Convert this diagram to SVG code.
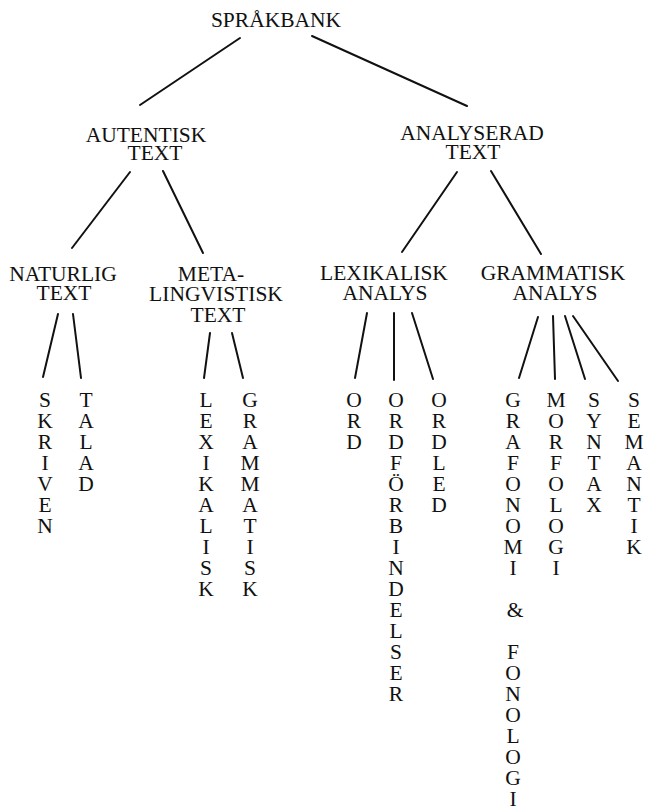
<svg xmlns="http://www.w3.org/2000/svg" width="646" height="811" viewBox="0 0 646 811">
<style>
text{font-family:"Liberation Serif","Times New Roman",serif;font-size:21.5px;fill:#111;text-anchor:middle}
.c line{stroke:#111;stroke-width:2;stroke-linecap:round}
</style>
<rect width="646" height="811" fill="#fff"/>
<g class="c" id="connectors">
<line x1="240" y1="38" x2="140" y2="105"/>
<line x1="312" y1="36" x2="467" y2="106"/>
<line x1="130" y1="172" x2="72" y2="248"/>
<line x1="163" y1="171" x2="203" y2="253"/>
<line x1="457" y1="172" x2="402" y2="252"/>
<line x1="491" y1="171" x2="541" y2="254"/>
<line x1="58" y1="314" x2="43" y2="377"/>
<line x1="73" y1="314" x2="81" y2="378"/>
<line x1="210" y1="333" x2="204" y2="378"/>
<line x1="232" y1="333" x2="243" y2="378"/>
<line x1="367" y1="313" x2="355" y2="378"/>
<line x1="394" y1="313" x2="394" y2="380"/>
<line x1="412" y1="313" x2="433" y2="379"/>
<line x1="538" y1="317" x2="519" y2="378"/>
<line x1="553" y1="316" x2="555" y2="379"/>
<line x1="565" y1="316" x2="585" y2="379"/>
<line x1="573" y1="316" x2="618" y2="381"/>
</g>
<g id="sprakbank"><text x="276" y="27">SPRÅKBANK</text></g>
<g id="autentisk"><text x="146" y="142">AUTENTISK</text><text x="155" y="160">TEXT</text></g>
<g id="analyserad"><text x="472" y="140">ANALYSERAD</text><text x="473" y="159">TEXT</text></g>
<g id="naturlig"><text x="63" y="281">NATURLIG</text><text x="64" y="300">TEXT</text></g>
<g id="metalingvistisk"><text x="211" y="281">META-</text><text x="216" y="301">LINGVISTISK</text><text x="218" y="322">TEXT</text></g>
<g id="lexikalisk-analys"><text x="384" y="280">LEXIKALISK</text><text x="385" y="300">ANALYS</text></g>
<g id="grammatisk-analys"><text x="553" y="280">GRAMMATISK</text><text x="555" y="300">ANALYS</text></g>
<g id="skriven"><text x="45" y="407"><tspan x="45">S</tspan><tspan x="45" dy="21">K</tspan><tspan x="45" dy="21">R</tspan><tspan x="45" dy="21">I</tspan><tspan x="45" dy="21">V</tspan><tspan x="45" dy="21">E</tspan><tspan x="45" dy="21">N</tspan></text></g>
<g id="talad"><text x="86" y="407"><tspan x="86">T</tspan><tspan x="86" dy="21">A</tspan><tspan x="86" dy="21">L</tspan><tspan x="86" dy="21">A</tspan><tspan x="86" dy="21">D</tspan></text></g>
<g id="lexikalisk"><text x="206" y="407"><tspan x="206">L</tspan><tspan x="206" dy="21">E</tspan><tspan x="206" dy="21">X</tspan><tspan x="206" dy="21">I</tspan><tspan x="206" dy="21">K</tspan><tspan x="206" dy="21">A</tspan><tspan x="206" dy="21">L</tspan><tspan x="206" dy="21">I</tspan><tspan x="206" dy="21">S</tspan><tspan x="206" dy="21">K</tspan></text></g>
<g id="grammatisk"><text x="250" y="407"><tspan x="250">G</tspan><tspan x="250" dy="21">R</tspan><tspan x="250" dy="21">A</tspan><tspan x="250" dy="21">M</tspan><tspan x="250" dy="21">M</tspan><tspan x="250" dy="21">A</tspan><tspan x="250" dy="21">T</tspan><tspan x="250" dy="21">I</tspan><tspan x="250" dy="21">S</tspan><tspan x="250" dy="21">K</tspan></text></g>
<g id="ord"><text x="354" y="407"><tspan x="354">O</tspan><tspan x="354" dy="21">R</tspan><tspan x="354" dy="21">D</tspan></text></g>
<g id="ordforbindelser"><text x="396" y="407"><tspan x="396">O</tspan><tspan x="396" dy="21">R</tspan><tspan x="396" dy="21">D</tspan><tspan x="396" dy="21">F</tspan><tspan x="396" dy="21">Ö</tspan><tspan x="396" dy="21">R</tspan><tspan x="396" dy="21">B</tspan><tspan x="396" dy="21">I</tspan><tspan x="396" dy="21">N</tspan><tspan x="396" dy="21">D</tspan><tspan x="396" dy="21">E</tspan><tspan x="396" dy="21">L</tspan><tspan x="396" dy="21">S</tspan><tspan x="396" dy="21">E</tspan><tspan x="396" dy="21">R</tspan></text></g>
<g id="ordled"><text x="439" y="407"><tspan x="439">O</tspan><tspan x="439" dy="21">R</tspan><tspan x="439" dy="21">D</tspan><tspan x="439" dy="21">L</tspan><tspan x="439" dy="21">E</tspan><tspan x="439" dy="21">D</tspan></text></g>
<g id="grafonomi-fonologi"><text x="513" y="407"><tspan x="513">G</tspan><tspan x="513" dy="21">R</tspan><tspan x="513" dy="21">A</tspan><tspan x="513" dy="21">F</tspan><tspan x="513" dy="21">O</tspan><tspan x="513" dy="21">N</tspan><tspan x="513" dy="21">O</tspan><tspan x="513" dy="21">M</tspan><tspan x="513" dy="21">I</tspan><tspan x="515" dy="42">&amp;</tspan><tspan x="513" dy="42">F</tspan><tspan x="513" dy="21">O</tspan><tspan x="513" dy="21">N</tspan><tspan x="513" dy="21">O</tspan><tspan x="513" dy="21">L</tspan><tspan x="513" dy="21">O</tspan><tspan x="513" dy="21">G</tspan><tspan x="513" dy="21">I</tspan></text></g>
<g id="morfologi"><text x="556" y="407"><tspan x="556">M</tspan><tspan x="556" dy="21">O</tspan><tspan x="556" dy="21">R</tspan><tspan x="556" dy="21">F</tspan><tspan x="556" dy="21">O</tspan><tspan x="556" dy="21">L</tspan><tspan x="556" dy="21">O</tspan><tspan x="556" dy="21">G</tspan><tspan x="556" dy="21">I</tspan></text></g>
<g id="syntax"><text x="594" y="407"><tspan x="594">S</tspan><tspan x="594" dy="21">Y</tspan><tspan x="594" dy="21">N</tspan><tspan x="594" dy="21">T</tspan><tspan x="594" dy="21">A</tspan><tspan x="594" dy="21">X</tspan></text></g>
<g id="semantik"><text x="634" y="407"><tspan x="634">S</tspan><tspan x="634" dy="21">E</tspan><tspan x="634" dy="21">M</tspan><tspan x="634" dy="21">A</tspan><tspan x="634" dy="21">N</tspan><tspan x="634" dy="21">T</tspan><tspan x="634" dy="21">I</tspan><tspan x="634" dy="21">K</tspan></text></g>
</svg>
